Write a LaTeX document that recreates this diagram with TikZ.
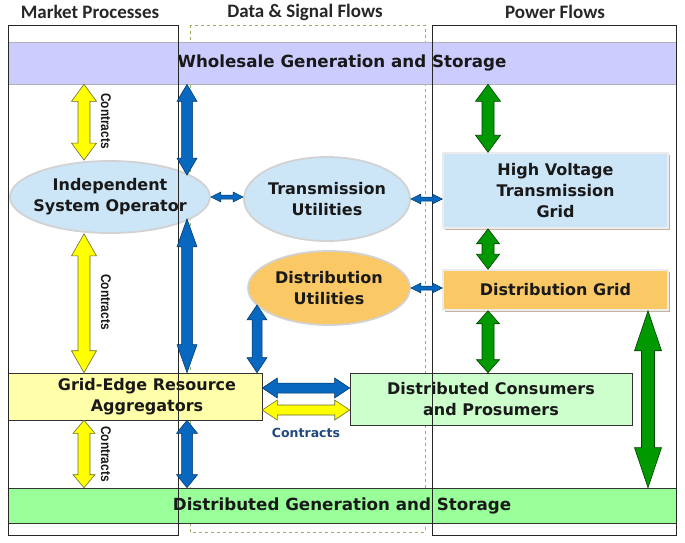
\documentclass[tikz,border=0pt]{standalone}
\usepackage{fontspec}
\usetikzlibrary{calc,shapes.geometric,shadows}
\newfontfamily\vfont{DejaVu Sans}
\newfontfamily\cfont{Carlito}
\newfontfamily\nfont{Liberation Sans}[FakeStretch=0.85]
\definecolor{lav}{HTML}{CCCCFF}
\definecolor{lblue}{HTML}{CCE6F8}
\definecolor{orng}{HTML}{FAC864}
\definecolor{lyel}{HTML}{FFFFAA}
\definecolor{gband}{HTML}{99FF99}
\definecolor{lgreen}{HTML}{CCFFCC}
\definecolor{yarr}{HTML}{FFFF00}
\definecolor{yout}{HTML}{6B6B30}
\definecolor{barr}{HTML}{0868C0}
\definecolor{bout}{HTML}{00335F}
\definecolor{garr}{HTML}{009900}
\definecolor{gout}{HTML}{004000}
\definecolor{dashc}{HTML}{98B060}
\definecolor{ctrblue}{HTML}{1F497D}
% double-headed fat arrow: style, start, end, half shaft, half head, head length
\newcommand\dblarrow[6]{%
\path[#1] (#2) -- ($(#2)!#6!(#3)!#5!90:(#3)$) -- ($(#2)!#6!(#3)!#4!90:(#3)$)
 -- ($(#3)!#6!(#2)!#4!-90:(#2)$) -- ($(#3)!#6!(#2)!#5!-90:(#2)$) -- (#3)
 -- ($(#3)!#6!(#2)!#5!90:(#2)$) -- ($(#3)!#6!(#2)!#4!90:(#2)$)
 -- ($(#2)!#6!(#3)!#4!-90:(#3)$) -- ($(#2)!#6!(#3)!#5!-90:(#3)$) -- cycle;}
\begin{document}
\begin{tikzpicture}[x=1pt,y=-1pt,
  txt/.style={font=\vfont\bfseries\fontsize{16}{21}\selectfont, align=center, text=black!90},
  band/.style={txt, rectangle, inner sep=0pt, font=\vfont\bfseries\fontsize{16.7}{21}\selectfont},
  boxn/.style={txt, rectangle, draw=black!80, line width=0.6pt, inner sep=0pt},
  shbox/.style={txt, rectangle, draw=white!85!gray, line width=1.5pt, inner sep=0pt,
    drop shadow={shadow xshift=1.5pt, shadow yshift=-1.5pt, fill=brown!50!gray, opacity=0.6}},
  ell/.style={ellipse, draw=gray!35, line width=1.8pt, inner sep=0pt},
  colbox/.style={draw=black!85, line width=0.8pt},
  hdr/.style={font=\cfont\bfseries\fontsize{19}{22}\selectfont, text=black!85},
  ctrv/.style={font=\nfont\bfseries\fontsize{14}{15}\selectfont, rotate=-90, text=black!90},
  yarrow/.style={fill=yarr, draw=yout, line width=0.6pt},
  barrow/.style={fill=barr, draw=bout, line width=0.5pt},
  garrow/.style={fill=garr, draw=gout, line width=0.6pt}]
\useasboundingbox (0,0) rectangle (685,542);

% headers
\node[hdr] (h1) at (90,12) {Market Processes};
\node[hdr] (h2) at (305,12) {Data \& Signal Flows};
\node[hdr] (h3) at (555,12) {Power Flows};

% dashed data column (behind)
\draw[dashc, dashed, line width=0.8pt] (190,25) rectangle (425,532);

% bands
\node[band, fill=lav, draw=gray!60, line width=0.6pt, minimum width=668pt, minimum height=42pt] (whole) at (342,63) {Wholesale Generation and Storage};
\node[band, fill=gband, draw=black!80, line width=0.6pt, minimum width=668pt, minimum height=35pt] (dgen) at (342,505.5) {Distributed Generation and Storage};

% market / data nodes (ellipses with their texts)
\node[ell, fill=lblue, minimum width=200pt, minimum height=72pt] (iso) at (110,197) {};
\node[txt] (isot) at (iso.center) {Independent\\System Operator};
\node[ell, fill=lblue, minimum width=166pt, minimum height=84pt] (tu) at (327,199) {};
\node[txt] (tut) at (tu.center) {Transmission\\Utilities};
\node[ell, fill=orng, minimum width=162pt, minimum height=74pt] (du) at (329,288) {};
\node[txt] (dut) at (du.center) {Distribution\\Utilities};

% power nodes
\node[shbox, fill=lblue, minimum width=225pt, minimum height=75pt] (hv) at (555.5,190.5) {High Voltage\\Transmission\\Grid};
\node[shbox, fill=orng, minimum width=225pt, minimum height=40pt] (dg) at (555.5,290) {Distribution Grid};

% edge boxes
\node[boxn, fill=lyel, minimum width=254pt, minimum height=47pt] (gera) at (135,396.5) {};
\node[txt] (gerat) at (147,397) {Grid-Edge Resource\\Aggregators};
\node[boxn, fill=lgreen, minimum width=282pt, minimum height=52pt] (cons) at (491,399) {Distributed Consumers\\and Prosumers};

% column frames
\draw[colbox] (8,25) rectangle (178,535);
\draw[colbox] (432,25) rectangle (676,535);

% column x references
\coordinate (ycol) at (84,0);
\coordinate (bcol) at (187,0);
\coordinate (bcolb) at (257,0);
\coordinate (gcol) at (488,0);
\coordinate (gcolb) at (648,0);

% yellow contract arrows (market)
\dblarrow{yarrow}{ycol |- whole.south}{ycol |- iso.north}{6pt}{12.5pt}{17pt}
\dblarrow{yarrow}{ycol |- iso.south}{ycol |- gera.north}{6pt}{12.5pt}{22pt}
\dblarrow{yarrow}{ycol |- gera.south}{ycol |- dgen.north}{6pt}{11pt}{13pt}
\node[ctrv] (c1) at (106,121) {Contracts};
\node[ctrv] (c2) at (106,302) {Contracts};
\node[ctrv] (c3) at (106,454) {Contracts};

% blue data arrows
\dblarrow{barrow}{bcol |- whole.south}{bcol |- iso.15}{5.5pt}{10pt}{17pt}
\dblarrow{barrow}{bcol |- iso.-15}{bcol |- gera.north}{5.5pt}{10pt}{28pt}
\dblarrow{barrow}{bcol |- gera.south}{bcol |- dgen.north}{5.5pt}{10.5pt}{13pt}
\dblarrow{barrow}{bcolb |- du.-167}{bcolb |- gera.north}{5pt}{10pt}{15pt}
\dblarrow{barrow}{iso.east}{iso.east -| tu.west}{2pt}{5pt}{10pt}
\dblarrow{barrow}{tu.east}{tu.east -| hv.west}{2pt}{5pt}{10pt}
\dblarrow{barrow}{du.east}{du.east -| dg.west}{2pt}{5pt}{10pt}
\dblarrow{barrow}{[yshift=8.5pt]gera.east}{[yshift=8.5pt]gera.east -| cons.west}{5pt}{10pt}{15pt}
\dblarrow{yarrow}{[yshift=-13.5pt]gera.east}{[yshift=-13.5pt]gera.east -| cons.west}{5pt}{10pt}{15pt}
\node[font=\vfont\bfseries\fontsize{12.5}{15}\selectfont, text=ctrblue] (c4) at (306,433) {Contracts};

% green power arrows
\dblarrow{garrow}{gcol |- whole.south}{gcol |- hv.north}{6pt}{12.5pt}{17pt}
\dblarrow{garrow}{gcol |- hv.south}{gcol |- dg.north}{6pt}{11.5pt}{15pt}
\dblarrow{garrow}{gcol |- dg.south}{gcol |- cons.north}{6pt}{11.5pt}{13pt}
\dblarrow{garrow}{gcolb |- dg.south}{gcolb |- dgen.north}{6.5pt}{13.5pt}{40pt}
\end{tikzpicture}
\end{document}
